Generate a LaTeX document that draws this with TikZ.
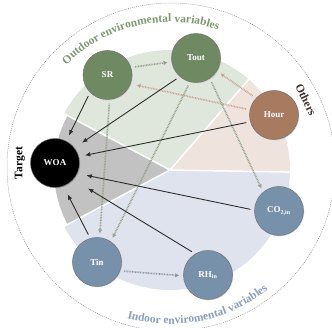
\documentclass[tikz,border=0pt]{standalone}
\usepackage{fontspec}
\setmainfont{Liberation Serif}
\usetikzlibrary{arrows.meta,decorations.text,shadows}
\definecolor{sectgray}{HTML}{C2C2C2}
\definecolor{sectgreen}{HTML}{DFE6DC}
\definecolor{sectpeach}{HTML}{EFE3DD}
\definecolor{sectblue}{HTML}{DFE3ED}
\definecolor{nodegreen}{HTML}{6F8A62}
\definecolor{nodebrown}{HTML}{A87A5F}
\definecolor{nodeblue}{HTML}{7891AB}
\definecolor{txtgreen}{HTML}{7E9870}
\definecolor{txtblue}{HTML}{8A9FBA}
\definecolor{txtbrown}{HTML}{3B302B}
\definecolor{arrdark}{HTML}{2E2E2E}
\definecolor{dotgreen}{HTML}{97A18C}
\definecolor{dotpeach}{HTML}{C9A590}
\definecolor{dotblue}{HTML}{8C97A6}
\begin{document}
\begin{tikzpicture}[x=1pt, y=1pt,
    var/.style={circle, minimum size=49pt, inner sep=0pt, draw=black!55, line width=0.5pt,
        text=white, font=\bfseries\fontsize{9}{10}\selectfont,
        drop shadow={shadow xshift=0.8pt, shadow yshift=-0.8pt, opacity=0.25}},
    solidarr/.style={-{Latex[length=5.5pt,width=4.5pt]}, draw=arrdark, line width=0.9pt,
        shorten <=4pt, shorten >=6pt},
    dotarr/.style={-{Latex[length=4pt,width=4.5pt]}, line width=1.7pt,
        dash pattern=on 0.8pt off 0.8pt, shorten <=4pt, shorten >=4pt},
    grouplabel/.style={font=\bfseries\fontsize{11.5}{12}\selectfont}]
    \useasboundingbox (-170,-158) rectangle (162,170);
    \clip (-170,-158) rectangle (162,170);

    % Vòng ngoài nét đứt
    \draw[gray!85, line width=0.5pt, dash pattern=on 1pt off 1pt] (1,3) circle[radius=164];

    % Các nhóm biến (hình quạt)
    \fill[sectgreen] (0,0) -- (49:120) arc[start angle=49, end angle=152, radius=120] -- cycle;
    \fill[sectpeach] (0,0) -- (-1:120) arc[start angle=-1, end angle=49, radius=120] -- cycle;
    \fill[sectblue] (0,0) -- (208:120) arc[start angle=208, end angle=359, radius=120] -- cycle;
    \fill[sectgray] (0,0) -- (152:116) arc[start angle=152, end angle=208, radius=116] -- cycle;
    \foreach \a in {-1,49,152,208}
        \draw[white, line width=1.5pt] (0,0) -- (\a:121);

    % Nhãn các nhóm
    \path[decorate, decoration={text along path, text align=center, text color=txtgreen,
        text={|\bfseries\fontsize{11.5}{12}\selectfont|Outdoor environmental variables}}]
        (0,2) ++(153:146) arc[start angle=153, end angle=53, radius=146];
    \path[decorate, decoration={text along path, text align=center, text color=txtblue,
        text={|\bfseries\fontsize{11.5}{12}\selectfont|Indoor enviromental variables}}]
        (0,2) ++(226:156) arc[start angle=226, end angle=337, radius=156];
    \node[grouplabel, text=txtbrown, rotate=-64] (others) at (136,70) {Others};
    \node[grouplabel, rotate=90] (target) at (-150,7) {Target};

    % Các biến
    \node[var, fill=nodegreen] (SR) at (-62.5,95) {SR};
    \node[var, fill=nodegreen] (Tout) at (26,112) {Tout};
    \node[var, fill=nodebrown] (Hour) at (104,55) {Hour};
    \node[var, fill=black] (WOA) at (-115,7) {WOA};
    \node[var, fill=nodeblue] (COin) at (109,-41) {CO\textsubscript{2,in}};
    \node[var, fill=nodeblue] (Tin) at (-73,-92) {Tin};
    \node[var, fill=nodeblue] (RHin) at (38,-105) {RH\textsubscript{in}};

    % Quan hệ phụ thuộc giữa các biến
    \draw[dotarr, dotgreen] (SR.18) -- (Tout.189);
    \draw[dotarr, dotpeach, shorten >=6pt] (Hour.168) -- (SR.-21);
    \draw[dotarr, dotpeach] (Hour.137) -- (Tout.-32);
    \draw[dotarr, dotgreen] (SR.-85) -- (Tin.84);
    \draw[dotarr, dotgreen] (Tout.256) -- (Tin.56);
    \draw[dotarr, dotgreen] (Tout.-56) -- (COin.130);
    \draw[dotarr, dotblue] (Tin.-21) -- (RHin.182);

    % Các mũi tên tới WOA
    \draw[solidarr] (SR.225) -- (WOA.63);
    \draw[solidarr, shorten >=9pt] (Tout.229) -- (WOA.38);
    \draw[solidarr] (Hour.196) -- (WOA.15);
    \draw[solidarr, shorten >=9pt] (COin.178) -- (WOA.-25);
    \draw[solidarr, shorten >=17pt] (RHin.121) -- (WOA.-42);
    \draw[solidarr, shorten >=9pt] (Tin.106) -- (WOA.-70);
\end{tikzpicture}
\end{document}
